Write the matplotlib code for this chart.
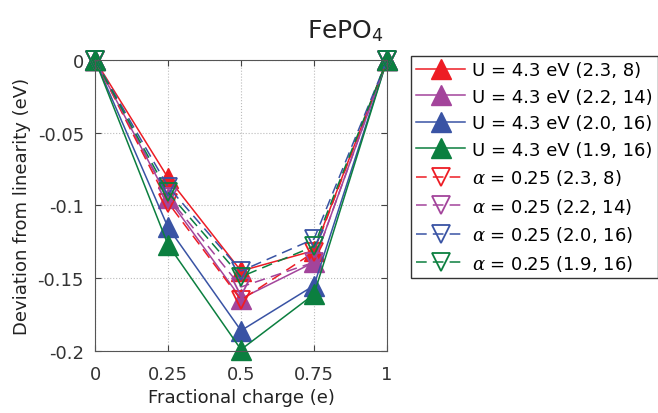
import matplotlib.pyplot as plt
from matplotlib.ticker import FixedLocator, FixedFormatter

plt.rcParams['font.family'] = ['DejaVu Sans']
plt.rcParams['mathtext.fontset'] = 'custom'
plt.rcParams['mathtext.rm'] = 'DejaVu Sans'
plt.rcParams['mathtext.it'] = 'DejaVu Serif:italic'

q = [0, 0.25, 0.5, 0.75, 1]

# U = 4.3 eV series (solid, filled up-triangles)
u_23_8 = [0, -0.081, -0.145, -0.131, 0]
u_22_14 = [0, -0.095, -0.164, -0.139, 0]
u_20_16 = [0, -0.115, -0.186, -0.155, 0]
u_19_16 = [0, -0.127, -0.199, -0.161, 0]

# alpha = 0.25 series (dashed, open down-triangles)
a_23_8 = [0, -0.098, -0.165, -0.132, 0]
a_22_14 = [0, -0.094, -0.156, -0.139, 0]
a_20_16 = [0, -0.087, -0.145, -0.123, 0]
a_19_16 = [0, -0.091, -0.149, -0.128, 0]

labels_u = ['U = 4.3 eV (2.3, 8)', 'U = 4.3 eV (2.2, 14)',
            'U = 4.3 eV (2.0, 16)', 'U = 4.3 eV (1.9, 16)']
labels_a = [r'$\alpha$ = 0.25 (2.3, 8)', r'$\alpha$ = 0.25 (2.2, 14)',
            r'$\alpha$ = 0.25 (2.0, 16)', r'$\alpha$ = 0.25 (1.9, 16)']
colors = ['#ED1C24', '#A3449B', '#3953A4', '#0B7F3F']

fig = plt.figure(figsize=(6.58, 4.14), dpi=100)
ax = fig.add_axes([0.1444, 0.1498, 0.4438, 0.7029])

for ys, lab, c in zip([u_23_8, u_22_14, u_20_16, u_19_16], labels_u, colors):
    ax.plot(q, ys, '-', color=c, lw=1.1, marker='^', ms=14,
            markerfacecolor=c, markeredgecolor=c, label=lab, clip_on=False)
for ys, lab, c in zip([a_23_8, a_22_14, a_20_16, a_19_16], labels_a, colors):
    ax.plot(q, ys, '--', color=c, lw=1.1, dashes=(7, 4), marker='v', ms=13,
            markerfacecolor='none', markeredgecolor=c, markeredgewidth=1.3,
            label=lab, clip_on=False)

ax.set_xlim(0, 1)
ax.set_ylim(-0.2, 0)
ax.xaxis.set_major_locator(FixedLocator([0, 0.25, 0.5, 0.75, 1]))
ax.xaxis.set_major_formatter(FixedFormatter(['0', '0.25', '0.5', '0.75', '1']))
ax.yaxis.set_major_locator(FixedLocator([-0.2, -0.15, -0.1, -0.05, 0]))
ax.yaxis.set_major_formatter(FixedFormatter(['-0.2', '-0.15', '-0.1', '-0.05', '0']))
ax.tick_params(direction='in', length=4, labelsize=13, colors='#444444',
               top=True, right=True)
ax.tick_params(axis='x', pad=10)
ax.tick_params(axis='y', pad=8)
ax.tick_params(labelcolor='#333333')
for s in ax.spines.values():
    s.set_color('#555555')
ax.grid(True, ls=':', color='#bbbbbb', lw=0.8)
ax.set_axisbelow(True)

ax.set_xlabel('Fractional charge (e)', fontsize=13, color='#222222', labelpad=4)
ax.set_ylabel('Deviation from linearity (eV)', fontsize=13, color='#222222', labelpad=5)

fig.text(0.525, 0.925, 'FePO$_4$', fontsize=18, ha='center', va='center',
         color='#222222')

leg = ax.legend(loc='upper left', bbox_to_anchor=(0.6246, 0.863),
                bbox_transform=fig.transFigure, borderaxespad=0,
                fancybox=False, edgecolor='#333333', fontsize=13,
                handlelength=2.7, labelspacing=0.47, borderpad=0.3,
                handletextpad=0.4, framealpha=1)
leg.get_frame().set_linewidth(1.0)

fig.savefig('out.png', dpi=100)
